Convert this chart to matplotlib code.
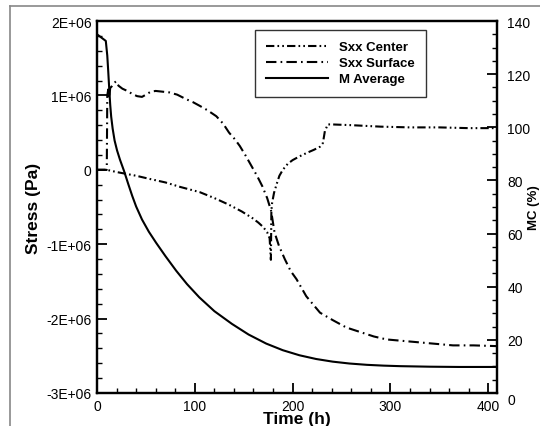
import matplotlib
matplotlib.use("Agg")
import matplotlib.pyplot as plt
from matplotlib.lines import Line2D
import numpy as np

plt.rcParams['font.family'] = ['Liberation Sans', 'DejaVu Sans']

# ---------------- data ----------------
t_surface = [0, 10, 10.5, 11.5, 12.5, 13.5, 15, 17, 19.5, 22, 26, 31, 36, 41, 46, 50, 55, 60,
             67, 74, 82, 91, 98, 105, 113, 122, 129, 135, 141, 146, 152, 158, 164, 169, 174,
             178, 181.5, 186, 192, 198, 204, 214, 228, 241, 255, 269, 283, 296, 313, 330, 347,
             364, 385, 409]
s_surface = [0, 0, 1.0e6, 1.08e6, 0.96e6, 1.10e6, 1.12e6, 1.16e6, 1.19e6, 1.13e6, 1.09e6, 1.06e6,
             1.02e6, 0.99e6, 0.98e6, 1.01e6, 1.05e6, 1.06e6, 1.05e6, 1.04e6, 1.01e6, 0.95e6,
             0.91e6, 0.86e6, 0.80e6, 0.72e6, 0.62e6, 0.50e6, 0.41e6, 0.32e6, 0.19e6, 0.05e6,
             -0.09e6, -0.22e6, -0.38e6, -0.55e6, -0.84e6, -1.02e6, -1.20e6, -1.36e6, -1.47e6,
             -1.70e6, -1.92e6, -2.02e6, -2.12e6, -2.18e6, -2.24e6, -2.28e6, -2.30e6, -2.32e6,
             -2.34e6, -2.36e6, -2.36e6, -2.37e6]

t_center = [0, 10, 20, 28, 40, 53, 70, 85, 105, 120, 135, 148, 159, 165, 170, 174, 176.5, 177.8,
            178.3, 179, 181, 184, 186.5, 190, 195, 200, 207, 215, 222, 228, 231, 233, 236, 240,
            260, 290, 320, 350, 380, 409]
s_center = [0, 0, -0.03e6, -0.05e6, -0.08e6, -0.12e6, -0.17e6, -0.23e6, -0.30e6, -0.38e6,
            -0.47e6, -0.56e6, -0.65e6, -0.71e6, -0.77e6, -0.84e6, -0.92e6, -1.21e6, -0.55e6,
            -0.45e6, -0.31e6, -0.18e6, -0.08e6, 0.0, 0.08e6, 0.13e6, 0.18e6, 0.23e6, 0.27e6,
            0.31e6, 0.36e6, 0.52e6, 0.61e6, 0.61e6, 0.60e6, 0.58e6, 0.57e6, 0.57e6, 0.56e6,
            0.56e6]

t_mc = [0, 9, 10.5, 11.5, 12.5, 13.5, 14.5, 16, 18, 20.5, 23.5, 27.7, 32, 36, 40, 46, 53, 60.5,
        70, 81, 92, 104.6, 120, 138, 155, 173, 190, 207, 224, 241, 258, 276, 293, 310, 340,
        370, 409]
mc_avg = [135, 132.5, 127, 121, 114.5, 108.5, 104, 99.5, 95, 91.3, 87.8, 83.5, 78.6, 74.2, 70.2,
          65.3, 60.7, 56.5, 51.5, 46, 41, 36, 30.8, 26, 22, 18.6, 16.1, 14.2, 12.8, 11.8, 11.1,
          10.6, 10.3, 10.1, 9.9, 9.8, 9.8]

x_ticks = [0, 100, 200, 300, 400]
y_ticks = [-3e6, -2e6, -1e6, 0, 1e6, 2e6]
y_ticklabels = ['-3E+06', '-2E+06', '-1E+06', '0', '1E+06', '2E+06']
y2_ticks = [0, 20, 40, 60, 80, 100, 120, 140]

# ---------------- figure ----------------
W, H = 540, 427
fig = plt.figure(figsize=(W / 100, H / 100), dpi=100)
ax = fig.add_axes([97 / W, 1 - 394 / H, 400 / W, 372 / H])
ax2 = ax.twinx()

lw = 1.5
l_center, = ax.plot(t_center, s_center, color='black', lw=lw,
                    dashes=(4, 1.5, 0.8, 1.5, 0.8, 1.5), label='Sxx Center')
l_surf, = ax.plot(t_surface, s_surface, color='black', lw=lw,
                  dashes=(5, 2, 0.8, 2), label='Sxx Surface')
l_mc, = ax2.plot(t_mc, mc_avg, color='black', lw=lw, label='M Average')

ax.set_xlim(0, 409)
ax.set_ylim(-3e6, 2e6)
ax2.set_ylim(0, 140)

ax.set_xticks(x_ticks)
ax.set_xticks(np.arange(0, 409, 20), minor=True)
ax.set_yticks(y_ticks)
ax.set_yticklabels(y_ticklabels)
ax.set_yticks(np.arange(-3e6, 2.01e6, 0.2e6), minor=True)
ax2.set_yticks(y2_ticks)
ax2.set_yticks(np.arange(0, 141, 5), minor=True)

for a in (ax, ax2):
    for s in a.spines.values():
        s.set_linewidth(1.6)
ax.tick_params(axis='both', which='major', direction='in', length=7, width=1.3,
               labelsize=10, top=False, right=False)
ax.tick_params(axis='both', which='minor', direction='in', length=3.5, width=1.0,
               top=False, right=False)
ax.tick_params(axis='y', which='major', pad=4)
ax.tick_params(axis='x', which='major', pad=4)
ax2.tick_params(axis='y', which='major', direction='in', length=7, width=1.3,
                labelsize=10, pad=7.5)
ax2.tick_params(axis='y', which='minor', direction='in', length=3.5, width=1.0)
ax2.yaxis.get_major_ticks()[0].label2.set_verticalalignment('top')

ax.set_ylabel('Stress (Pa)', fontsize=12.5, fontweight='bold', labelpad=4)
ax.set_xlabel('Time (h)', fontsize=12.5, fontweight='bold', labelpad=-1)
fig.text(537 / W, 1 - 208 / H, 'MC (%)', rotation=90, rotation_mode='anchor',
         ha='center', va='baseline', fontsize=9.5, fontweight='bold')

leg = ax2.legend(handles=[l_center, l_surf, l_mc], loc='upper left',
                 bbox_to_anchor=((255 - 97) / 400, (394 - 31) / 372),
                 borderaxespad=0, frameon=True, fancybox=False, handlelength=4.7,
                 handletextpad=0.8, borderpad=0.85, labelspacing=0.28,
                 prop={'weight': 'bold', 'size': 9.5})
leg.get_frame().set_edgecolor('black')
leg.get_frame().set_linewidth(1.0)

# outer gray frame
fig.add_artist(Line2D([10 / W, 10 / W], [0, 1 - 7 / H], transform=fig.transFigure,
                      color='#888888', lw=1.2))
fig.add_artist(Line2D([10 / W, 1], [1 - 7 / H, 1 - 7 / H], transform=fig.transFigure,
                      color='#888888', lw=1.2))

fig.savefig('out.png', dpi=100)
